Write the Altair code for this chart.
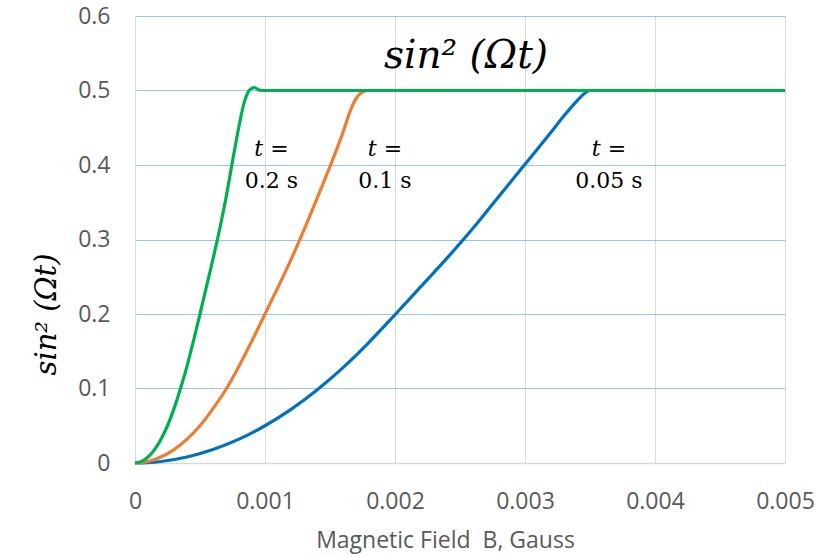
import altair as alt
import pandas as pd

# ---- data ----
b_blue = [0, 0.0001, 0.0002, 0.0004, 0.0006, 0.0008, 0.001, 0.0012, 0.0014, 0.0016, 0.0018,
          0.002, 0.0022, 0.0024, 0.0026, 0.0028, 0.003, 0.0032, 0.0033, 0.0034,
          0.00345, 0.0035, 0.0036, 0.005]
p_blue = [0, 0.0005, 0.002, 0.008, 0.018, 0.032, 0.05, 0.072, 0.098, 0.128, 0.162,
          0.199, 0.237, 0.275, 0.315, 0.358, 0.401, 0.444, 0.466, 0.486,
          0.495, 0.5, 0.5, 0.5]

b_orange = [0, 0.0001, 0.0002, 0.0003, 0.0004, 0.0005, 0.0006, 0.0007, 0.0008, 0.0009,
            0.001, 0.0011, 0.0012, 0.0013, 0.0014, 0.0015, 0.0016, 0.00165, 0.0017,
            0.00175, 0.0018, 0.0019, 0.005]
p_orange = [0, 0.002, 0.008, 0.018, 0.032, 0.05, 0.073, 0.099, 0.13, 0.164,
            0.2, 0.236, 0.273, 0.313, 0.355, 0.398, 0.444, 0.47, 0.489,
            0.498, 0.5, 0.5, 0.5]

b_green = [0, 0.00005, 0.0001, 0.00015, 0.0002, 0.00025, 0.0003, 0.00035, 0.0004, 0.00045,
           0.0005, 0.00055, 0.0006, 0.00065, 0.0007, 0.00075, 0.0008, 0.00084, 0.00087,
           0.0009, 0.00092, 0.00095, 0.00098, 0.00102, 0.005]
p_green = [0, 0.002, 0.008, 0.018, 0.032, 0.05, 0.073, 0.1, 0.13, 0.164,
           0.2, 0.237, 0.274, 0.313, 0.356, 0.405, 0.452, 0.484, 0.498,
           0.503, 0.504, 0.501, 0.5, 0.5, 0.5]

series_names = ["t = 0.05 s", "t = 0.1 s", "t = 0.2 s"]
series_colors = ["#0070C0", "#ED7D31", "#00B050"]

x_ticks = [0, 0.001, 0.002, 0.003, 0.004, 0.005]
y_ticks = [0, 0.1, 0.2, 0.3, 0.4, 0.5, 0.6]

# annotation labels
ann_top_text = ["t =", "t =", "t ="]
ann_bot_text = ["0.2 s", "0.1 s", "0.05 s"]
ann_b = [0.00105, 0.001923, 0.003646]
ann_top_p = [0.4117, 0.4117, 0.4117]
ann_bot_p = [0.3696, 0.3696, 0.3696]

title_text = ["sin\u00b2 (\u03a9t)"]
title_b = [0.002546]
title_p = [0.530]

# ---- tables ----
rows = []
for name, bs, ps in zip(series_names, [b_blue, b_orange, b_green], [p_blue, p_orange, p_green]):
    for b, p in zip(bs, ps):
        rows.append({"B": b, "P": p, "series": name})
df = pd.DataFrame(rows)

ann_top = pd.DataFrame({"B": ann_b, "P": ann_top_p, "label": ann_top_text})
ann_bot = pd.DataFrame({"B": ann_b, "P": ann_bot_p, "label": ann_bot_text})
title_df = pd.DataFrame({"B": title_b, "P": title_p, "label": title_text})

x_scale = alt.Scale(domain=[0, 0.005], nice=False, zero=False)
y_scale = alt.Scale(domain=[0, 0.6], nice=False)

x_axis = alt.Axis(
    values=x_ticks, format=".3~f", title="Magnetic Field\u00a0 B, Gauss",
    labelFont="Open Sans", labelFontSize=23, labelColor="#595959", labelPadding=27,
    labelFlush=False, labelOverlap=False,
    ticks=False, domainColor="#D9D9D9", domainWidth=1.5,
    grid=True, gridColor="#D9D9D9", gridWidth=1,
    titleFont="Open Sans", titleFontSize=23, titleFontWeight="normal", titleColor="#595959",
    titleAnchor="start", titleAlign="center", titleX=310, titleY=84, titleBaseline="alphabetic",
)
y_axis = alt.Axis(
    values=y_ticks, format=".1~f", title="sin\u00b2 (\u03a9t)",
    labelFont="Open Sans", labelFontSize=23, labelColor="#595959", labelPadding=25,
    labelFlush=False, labelOverlap=False,
    ticks=False, domainColor="#D9D9D9", domainWidth=1,
    grid=True, gridColor="#9DC3E6", gridWidth=1,
    titleFont="DejaVu Serif", titleFontSize=29, titleFontWeight="normal", titleColor="#000000",
    titleFontStyle="italic", titleAngle=270, titleAlign="center", titleBaseline="alphabetic",
    titleX=-80, titleY=298,
)

layers = []
for i, (name, color) in enumerate(zip(series_names, series_colors)):
    if i == 0:
        enc_x = alt.X("B:Q", scale=x_scale, axis=x_axis)
        enc_y = alt.Y("P:Q", scale=y_scale, axis=y_axis)
    else:
        enc_x = alt.X("B:Q", scale=x_scale)
        enc_y = alt.Y("P:Q", scale=y_scale)
    layer = (
        alt.Chart(df)
        .transform_filter(alt.datum.series == name)
        .mark_line(color=color, strokeWidth=3.2, interpolate="monotone")
        .encode(x=enc_x, y=enc_y)
    )
    layers.append(layer)

top_txt = alt.Chart(ann_top).mark_text(
    font="DejaVu Serif", fontSize=22, fontStyle="italic", color="#000000",
    align="center", baseline="alphabetic"
).encode(x="B:Q", y="P:Q", text="label:N")

bot_txt = alt.Chart(ann_bot).mark_text(
    font="DejaVu Serif", fontSize=22, color="#000000",
    align="center", baseline="alphabetic"
).encode(x="B:Q", y="P:Q", text="label:N")

ttl = alt.Chart(title_df).mark_text(
    font="DejaVu Serif", fontSize=39, fontStyle="italic", color="#000000",
    align="center", baseline="alphabetic"
).encode(x="B:Q", y="P:Q", text="label:N")

chart = (
    alt.layer(*layers, top_txt, bot_txt, ttl)
    .properties(
        width=650, height=447,
        autosize=alt.AutoSizeParams(type="none"),
        padding={"left": 135, "top": 16, "right": 53, "bottom": 94},
        background="white",
    )
    .configure_view(stroke="transparent")
)

chart.save("out.html", embed_options={"renderer": "svg", "actions": False})
